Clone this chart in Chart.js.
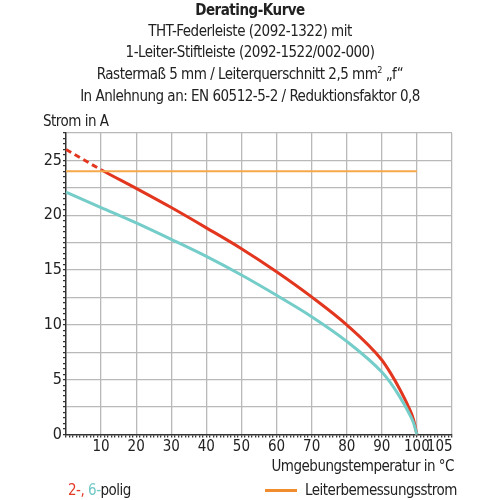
<!DOCTYPE html>
<html>
<head>
<meta charset="utf-8">
<script src="https://cdn.jsdelivr.net/npm/chart.js@4"></script>
<style>
    body { margin: 0; background: #fff; }
    #wrap { position: relative; width: 500px; height: 500px; font-family: "Liberation Sans Narrow", "DejaVu Sans Condensed", "Roboto", sans-serif; color: #222; }
    .txt { position: absolute; white-space: nowrap; font-size: 15px; line-height: 1; letter-spacing: -0.5px; }
    .center { left: 0; width: 500px; text-align: center; }
    canvas { position: absolute; left: 0; top: 0; }
</style>
</head>
<body>
<div id="wrap">
    <canvas id="chart" width="500" height="500"></canvas>
    <div class="txt center" style="top:3px; font-weight:bold;">Derating-Kurve</div>
    <div class="txt center" style="top:24px;">THT-Federleiste (2092-1322) mit</div>
    <div class="txt center" style="top:45px;">1-Leiter-Stiftleiste (2092-1522/002-000)</div>
    <div class="txt center" style="top:66px;">Rastermaß 5 mm / Leiterquerschnitt 2,5 mm<sup style="font-size:9px">2</sup> „f“</div>
    <div class="txt center" style="top:89px;">In Anlehnung an: EN 60512-5-2 / Reduktionsfaktor 0,8</div>
    <div class="txt" style="left:43px; top:114px;">Strom in A</div>
    <div class="txt" style="right:46px; top:459px;">Umgebungstemperatur in °C</div>
    <div class="txt" style="left:68px; top:483px;"><span style="color:#e23a26">2-,</span> <span style="color:#6fc8c6">6-</span>polig</div>
    <div style="position:absolute; left:265px; top:489px; width:32px; height:3px; background:#f08c2e;"></div>
    <div class="txt" style="left:305px; top:483px;">Leiterbemessungsstrom</div>
</div>
<script>
// Temperatur in °C
const temps = [0, 10, 20, 30, 40, 50, 60, 70, 80, 90, 92.5, 95, 97.5, 99, 100];
// Strom in A, 2-polig und 6-polig
const strom2pol = [26.0, 24.15, 22.45, 20.7, 18.85, 16.95, 14.85, 12.55, 10.0, 6.8, 5.6, 4.2, 2.6, 1.4, 0];
const strom6pol = [22.1, 20.7, 19.3, 17.8, 16.25, 14.55, 12.7, 10.75, 8.5, 5.7, 4.7, 3.5, 2.1, 1.1, 0];
// Leiterbemessungsstrom
const nennTemps = [0, 100];
const nennStrom = [24, 24];

const xMajor = [10, 20, 30, 40, 50, 60, 70, 80, 90, 100];
const xLastLabel = "105";

const toPoints = (xs, ys) => xs.map((x, i) => ({ x, y: ys[i] }));

const gridGray = "#b9b9b9";
const axisDark = "#333";
const tickFont = "'Liberation Sans Narrow', 'DejaVu Sans Condensed', Roboto, sans-serif";

new Chart(document.getElementById("chart"), {
    type: "line",
    data: {
        datasets: [
            {
                label: "Leiterbemessungsstrom",
                data: toPoints(nennTemps, nennStrom),
                borderColor: "#f5a94a",
                borderWidth: 2,
                pointRadius: 0
            },
            {
                label: "6-polig",
                data: toPoints(temps, strom6pol),
                borderColor: "#74cdc9",
                borderWidth: 3,
                pointRadius: 0,
                cubicInterpolationMode: "monotone"
            },
            {
                label: "2-polig",
                data: toPoints(temps, strom2pol),
                borderColor: "#e2361f",
                borderWidth: 3,
                pointRadius: 0,
                cubicInterpolationMode: "monotone",
                segment: {
                    borderDash: ctx => ctx.p0.parsed.x < 10 ? [6, 4] : undefined
                }
            }
        ]
    },
    options: {
        responsive: false,
        animation: false,
        clip: 4,
        layout: { padding: { top: 133, right: 48, left: 0, bottom: 0 } },
        plugins: { legend: { display: false }, tooltip: { enabled: false } },
        scales: {
            x: {
                type: "linear",
                min: 0,
                max: 110,
                afterBuildTicks: scale => {
                    const t = [];
                    for (let v = 0; v <= 110; v += 1) t.push({ value: v });
                    t.push({ value: 106.5 });
                    scale.ticks = t;
                },
                afterFit: scale => { scale.height = 65.5; },
                ticks: {
                    autoSkip: false,
                    maxRotation: 0,
                    padding: 1,
                    color: "#222",
                    font: { family: tickFont, size: 15 },
                    callback: v => v === 106.5 ? xLastLabel : (xMajor.includes(v) ? String(v) : "")
                },
                grid: {
                    color: ctx => (ctx.tick && ctx.tick.value % 10 === 0 && ctx.tick.value > 0) ? gridGray : "rgba(0,0,0,0)",
                    tickColor: ctx => (ctx.tick && ctx.tick.value === 106.5) ? "rgba(0,0,0,0)" : axisDark,
                    tickLength: 3,
                    lineWidth: 1.3
                },
                border: { color: axisDark, width: 1.5 }
            },
            y: {
                min: 0,
                max: 27.5,
                afterBuildTicks: scale => {
                    const t = [];
                    for (let v = 0; v <= 27.5; v += 0.5) t.push({ value: v });
                    scale.ticks = t;
                },
                afterFit: scale => { scale.width = 66; },
                ticks: {
                    autoSkip: false,
                    padding: 1,
                    color: "#222",
                    font: { family: tickFont, size: 16 },
                    callback: v => v % 5 === 0 ? String(v) : ""
                },
                grid: {
                    color: ctx => (ctx.tick && ctx.tick.value % 2.5 === 0 && ctx.tick.value > 0) ? gridGray : "rgba(0,0,0,0)",
                    tickColor: axisDark,
                    tickLength: 3,
                    lineWidth: 1.3
                },
                border: { color: axisDark, width: 1.5 }
            }
        }
    }
});
</script>
</body>
</html>
